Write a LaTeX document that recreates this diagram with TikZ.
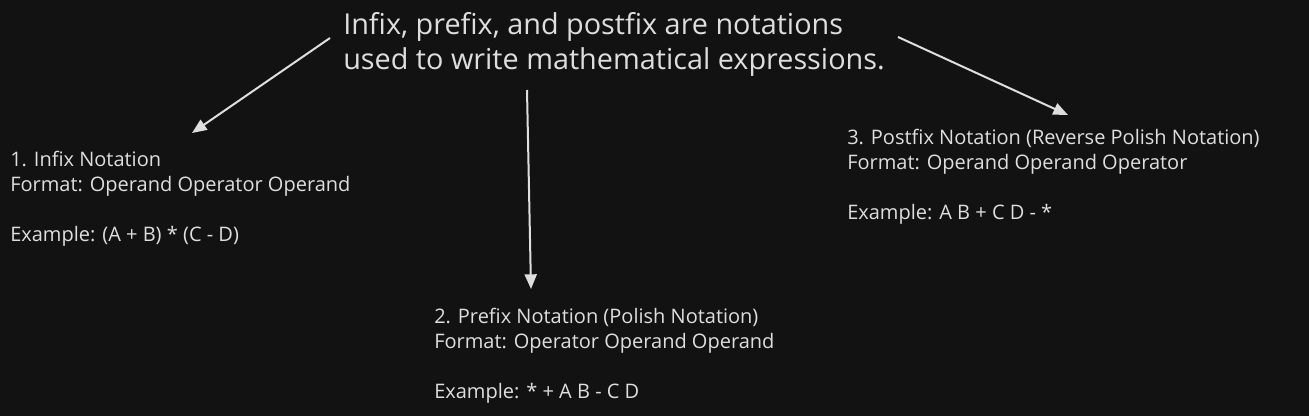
\documentclass[tikz,border=0pt]{standalone}
\usepackage{fontspec}
\setmainfont{Open Sans}
\usepackage{tikz}
\usetikzlibrary{arrows.meta,positioning,calc}
\usepackage{xcolor}
\definecolor{canvas}{HTML}{121212}
\definecolor{ink}{HTML}{DEDEDE}

\begin{document}
\begin{tikzpicture}[
  x=0.75pt, y=-0.75pt,
  every node/.style={text=ink, inner sep=0pt, align=left},
  headtext/.style={font=\fontsize{21.6}{26.25}\selectfont},
  notetext/.style={font=\fontsize{15}{18.75}\selectfont},
  pointer/.style={draw=ink, line width=1.5pt, -{Triangle[length=11pt, width=9pt]}}
]

% dark canvas, fixes the page size
\fill[canvas] (0,0) rectangle (1309,416);
\useasboundingbox (0,0) rectangle (1309,416);

% the question in the middle (base = last line)
\node[headtext, anchor=base west] (title) at (343,70)
  {Infix, prefix, and postfix are notations\\used to write mathematical expressions.};

% three notations
\node[notetext, anchor=base west] (infix) at (10,242)
  {1. Infix Notation\\Format: Operand Operator Operand\\[18.75pt]Example: (A + B) * (C - D)};
\node[notetext, anchor=base west] (prefix) at (434,398)
  {2. Prefix Notation (Polish Notation)\\Format: Operator Operand Operand\\[18.75pt]Example: * + A B - C D};
\node[notetext, anchor=base west] (postfix) at (847,220)
  {3. Postfix Notation (Reverse Polish Notation)\\Format: Operand Operand Operator\\[18.75pt]Example: A B + C D - *};

% pointers from the title
\draw[pointer] ([shift={(-13,-32)}]title.base west) -- ([shift={(182,-109)}]infix.base west);
\draw[pointer] ([shift={(184,20)}]title.base west) -- ([shift={(97,-109)}]prefix.base west);
\draw[pointer] ([shift={(555,-33)}]title.base west) -- ([shift={(221,-105)}]postfix.base west);

\end{tikzpicture}
\end{document}
